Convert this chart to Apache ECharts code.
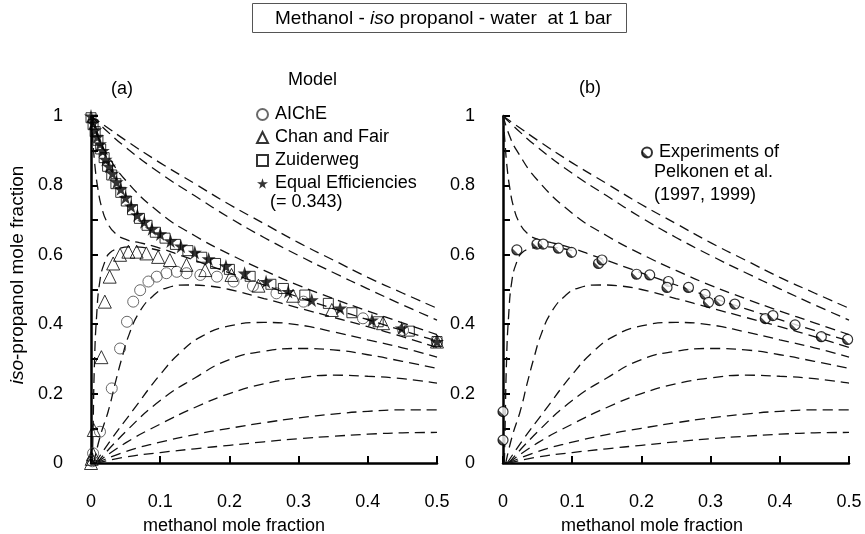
<!DOCTYPE html>
<html>
<head>
<meta charset="utf-8">
<script src="https://cdn.jsdelivr.net/npm/echarts@6/dist/echarts.min.js"></script>
<style>
  html, body { margin: 0; background: #fff; }
  #chart { width: 865px; height: 534px; }
</style>
</head>
<body>
<div id="chart"></div>
<script>
// Methanol - iso propanol - water at 1 bar: two panels of composition trajectories

const FONT = '"Liberation Sans", Arial, Helvetica, sans-serif'

// dashed model curves (same in both panels), [methanol, iso-propanol]
const topCurve1 = [[0,1],[0.02,0.972],[0.05,0.93],[0.1,0.865],[0.15,0.805],[0.2,0.745],[0.25,0.69],[0.3,0.635],[0.35,0.585],[0.4,0.535],[0.45,0.49],[0.5,0.446]]
const topCurve2 = [[0,1],[0.02,0.962],[0.05,0.91],[0.1,0.835],[0.15,0.77],[0.2,0.707],[0.25,0.65],[0.3,0.598],[0.35,0.549],[0.4,0.502],[0.45,0.456],[0.5,0.412]]
const topCurve3 = [[0,1],[0.01,0.94],[0.02,0.9],[0.05,0.815],[0.1,0.72],[0.15,0.655],[0.2,0.602],[0.25,0.555],[0.3,0.512],[0.35,0.474],[0.4,0.438],[0.45,0.404],[0.5,0.37]]
const topCurve4 = [[0,1],[0.003,0.92],[0.006,0.85],[0.01,0.79],[0.015,0.74],[0.023,0.695],[0.035,0.662],[0.052,0.643],[0.07,0.635],[0.095,0.622],[0.13,0.598],[0.2,0.548],[0.25,0.513],[0.3,0.478],[0.35,0.445],[0.4,0.413],[0.45,0.382],[0.5,0.352]]
const fanCurve1 = [[0.002,0],[0.003,0.1],[0.005,0.287],[0.008,0.42],[0.013,0.527],[0.02,0.58],[0.027,0.605],[0.04,0.618],[0.056,0.623],[0.08,0.62],[0.1,0.612]]
const fanCurve2 = [[0.004,0],[0.013,0.075],[0.025,0.15],[0.035,0.23],[0.045,0.305],[0.055,0.37],[0.07,0.435],[0.09,0.482],[0.11,0.505],[0.14,0.513],[0.17,0.51],[0.2,0.5],[0.25,0.474],[0.3,0.447],[0.35,0.42],[0.4,0.393],[0.45,0.364],[0.5,0.333]]
const fanCurve3 = [[0.006,0],[0.03,0.07],[0.06,0.15],[0.1,0.255],[0.13,0.32],[0.16,0.365],[0.2,0.395],[0.25,0.405],[0.3,0.398],[0.35,0.378],[0.4,0.355],[0.45,0.332],[0.5,0.305]]
const fanCurve4 = [[0.008,0],[0.05,0.09],[0.1,0.18],[0.15,0.245],[0.2,0.298],[0.25,0.322],[0.3,0.33],[0.35,0.326],[0.4,0.312],[0.45,0.293],[0.5,0.273]]
const fanCurve5 = [[0.008,0],[0.05,0.058],[0.1,0.112],[0.15,0.16],[0.2,0.2],[0.25,0.228],[0.3,0.245],[0.35,0.253],[0.4,0.25],[0.45,0.243],[0.5,0.23]]
const fanCurve6 = [[0.008,0],[0.05,0.033],[0.1,0.06],[0.15,0.082],[0.2,0.1],[0.25,0.116],[0.3,0.13],[0.35,0.141],[0.4,0.149],[0.45,0.153],[0.5,0.153]]
const fanCurve7 = [[0.008,0],[0.05,0.017],[0.1,0.03],[0.15,0.041],[0.2,0.051],[0.25,0.061],[0.3,0.07],[0.35,0.077],[0.4,0.083],[0.45,0.087],[0.5,0.088]]
const modelCurves = [topCurve1, topCurve2, topCurve3, topCurve4, fanCurve1, fanCurve2, fanCurve3, fanCurve4, fanCurve5, fanCurve6, fanCurve7]

// panel (a) model points
const aiche = [[0.002,0.005],[0.003,0.028],[0.013,0.09],[0.03,0.215],[0.042,0.33],[0.052,0.407],[0.061,0.465],[0.071,0.498],[0.083,0.523],[0.095,0.537],[0.109,0.547],[0.124,0.551],[0.138,0.547],[0.158,0.542],[0.182,0.537],[0.206,0.523],[0.234,0.51],[0.268,0.489],[0.307,0.465],[0.393,0.417],[0.451,0.383],[0.5,0.35]]
const chanFair = [[0,0],[0.001,0.012],[0.003,0.025],[0.004,0.095],[0.015,0.305],[0.02,0.465],[0.027,0.537],[0.032,0.575],[0.042,0.6],[0.054,0.609],[0.066,0.609],[0.08,0.604],[0.097,0.594],[0.114,0.585],[0.138,0.571],[0.165,0.556],[0.203,0.542],[0.242,0.511],[0.292,0.482],[0.348,0.441],[0.422,0.403],[0.5,0.35]]
const zuiderweg = [[0,0.995],[0.003,0.975],[0.006,0.955],[0.01,0.93],[0.014,0.905],[0.019,0.88],[0.024,0.855],[0.03,0.83],[0.036,0.805],[0.043,0.78],[0.051,0.755],[0.06,0.73],[0.07,0.705],[0.081,0.685],[0.093,0.665],[0.107,0.648],[0.122,0.63],[0.14,0.612],[0.16,0.593],[0.18,0.575],[0.2,0.558],[0.23,0.538],[0.26,0.515],[0.278,0.503],[0.309,0.484],[0.343,0.46],[0.377,0.433],[0.415,0.407],[0.46,0.38],[0.5,0.35]]
const equalEff = [[0,1],[0.003,0.98],[0.006,0.96],[0.009,0.94],[0.013,0.92],[0.017,0.9],[0.021,0.875],[0.026,0.855],[0.031,0.835],[0.037,0.81],[0.043,0.79],[0.05,0.765],[0.058,0.74],[0.067,0.715],[0.077,0.695],[0.088,0.675],[0.1,0.66],[0.115,0.64],[0.13,0.625],[0.15,0.607],[0.17,0.588],[0.195,0.568],[0.222,0.547],[0.253,0.523],[0.285,0.494],[0.319,0.47],[0.36,0.446],[0.406,0.412],[0.449,0.389],[0.5,0.35]]

// panel (b) measurements
const pelkonen = [[0,0.148],[0,0.066],[0.02,0.614],[0.049,0.631],[0.058,0.631],[0.08,0.619],[0.099,0.607],[0.138,0.575],[0.143,0.585],[0.193,0.544],[0.212,0.542],[0.239,0.523],[0.237,0.506],[0.268,0.506],[0.292,0.486],[0.297,0.463],[0.313,0.468],[0.335,0.458],[0.379,0.416],[0.39,0.425],[0.422,0.398],[0.46,0.364],[0.498,0.356]]

const STAR = 'path://M50,0 L61,35 L98,35 L68,57 L79,91 L50,70 L21,91 L32,57 L2,35 L39,35 Z'

function curve(data, gi) {
  return {
    type: 'line', xAxisIndex: gi, yAxisIndex: gi, data,
    smooth: 0.5, symbol: 'none', silent: true, clip: false,
    lineStyle: { color: '#111', width: 1.3, type: [10, 6] }, z: 1,
  }
}

function points(name, data, gi, symbol, size, itemStyle) {
  return {
    type: 'scatter', name, xAxisIndex: gi, yAxisIndex: gi, data,
    symbol, symbolSize: size, clip: false, itemStyle, z: 3,
  }
}

function xAxis(gi) {
  return {
    type: 'value', gridIndex: gi, min: 0, max: 0.5, interval: 0.1, offset: 20,
    axisLine: { lineStyle: { color: '#000', width: 2.5 } },
    axisTick: { inside: true, length: 7, lineStyle: { color: '#000', width: 2 } },
    axisLabel: { color: '#000', fontSize: 18, margin: 10, formatter: v => String(+v.toFixed(1)) },
    splitLine: { show: false },
  }
}

function yAxis(gi) {
  return {
    type: 'value', gridIndex: gi, min: 0, max: 1, interval: 0.1, offset: 18,
    axisLine: { show: true, lineStyle: { color: '#000', width: 2.5 } },
    axisTick: { show: true, inside: true, length: 7, lineStyle: { color: '#000', width: 2 } },
    axisLabel: {
      color: '#000', fontSize: 18, margin: 10,
      formatter: v => (Math.round(v * 10) % 2 === 0 ? String(+v.toFixed(1)) : ''),
    },
    splitLine: { show: false },
  }
}

const series = []
for (const gi of [0, 1]) modelCurves.forEach(c => series.push(curve(c, gi)))
series.push(points('AIChE', aiche, 0, 'circle', 11, { color: 'rgba(0,0,0,0)', borderColor: '#444', borderWidth: 1 }))
series.push(points('Chan and Fair', chanFair, 0, 'triangle', 13, { color: 'rgba(0,0,0,0)', borderColor: '#000', borderWidth: 1 }))
series.push(points('Zuiderweg', zuiderweg, 0, 'rect', 10, { color: 'rgba(0,0,0,0)', borderColor: '#000', borderWidth: 1 }))
series.push(points('Equal Efficiencies', equalEff, 0, STAR, 14, { color: '#000' }))
// half-shaded circles: dark lower-left crescent
series.push(points('Experiments of', pelkonen, 1, 'circle', 10, {
  color: { type: 'linear', x: 1, y: 0, x2: 0, y2: 1, colorStops: [
    { offset: 0, color: '#fff' }, { offset: 0.6, color: '#fff' },
    { offset: 0.66, color: '#222' }, { offset: 1, color: '#222' } ] },
  borderColor: '#000', borderWidth: 1.2,
}))

const txt = (text, x, y, extra) => ({
  type: 'text', x, y, silent: true,
  style: Object.assign({ text, fontSize: 18, fontFamily: FONT, fill: '#000', verticalAlign: 'middle' }, extra || {}),
})

const chart = echarts.init(document.getElementById('chart'))
chart.setOption({
  animation: false,
  textStyle: { fontFamily: FONT },
  title: {
    text: '{n|Methanol - }{i|iso}{n| propanol - water  at 1 bar}',
    left: 252, top: 3, padding: [6, 15, 5, 23],
    borderColor: '#555', borderWidth: 1,
    textStyle: { fontWeight: 'normal', rich: {
      n: { fontSize: 19, fontFamily: FONT, fontWeight: 'normal', color: '#000' },
      i: { fontSize: 19, fontFamily: FONT, fontWeight: 'normal', fontStyle: 'italic', color: '#000' },
    } },
  },
  grid: [
    { left: 91, top: 116, width: 346, height: 347 },
    { left: 503, top: 116, width: 346, height: 347 },
  ],
  xAxis: [xAxis(0), xAxis(1)],
  yAxis: [yAxis(0), yAxis(1)],
  legend: [
    {
      data: ['AIChE', 'Chan and Fair', 'Zuiderweg', 'Equal Efficiencies'],
      orient: 'vertical', left: 251, top: 100, itemWidth: 11, itemHeight: 11, itemGap: 4,
      selectedMode: false,
      textStyle: { fontSize: 18, lineHeight: 19, color: '#000', padding: [0, 0, 0, 2] },
    },
    {
      data: ['Experiments of'],
      orient: 'vertical', left: 636, top: 138, itemWidth: 10, itemHeight: 10,
      selectedMode: false,
      textStyle: { fontSize: 18, lineHeight: 19, color: '#000', padding: [0, 0, 0, 2] },
    },
  ],
  graphic: [
    txt('Model', 288, 80),
    txt('(= 0.343)', 270, 202),
    txt('Pelkonen et al.', 654, 172),
    txt('(1997, 1999)', 654, 195),
    txt('(a)', 122, 89, { align: 'center' }),
    txt('(b)', 590, 88, { align: 'center' }),
    txt('methanol mole fraction', 234, 526, { align: 'center' }),
    txt('methanol mole fraction', 652, 526, { align: 'center' }),
    {
      type: 'text', x: 18, y: 275, rotation: Math.PI / 2, silent: true,
      style: {
        text: '{i|iso}-propanol mole fraction', align: 'center', verticalAlign: 'middle',
        fontSize: 19, fontFamily: FONT, fill: '#000',
        rich: { i: { fontStyle: 'italic', fontSize: 19, fontFamily: FONT } },
      },
    },
  ],
  series,
})
</script>
</body>
</html>
